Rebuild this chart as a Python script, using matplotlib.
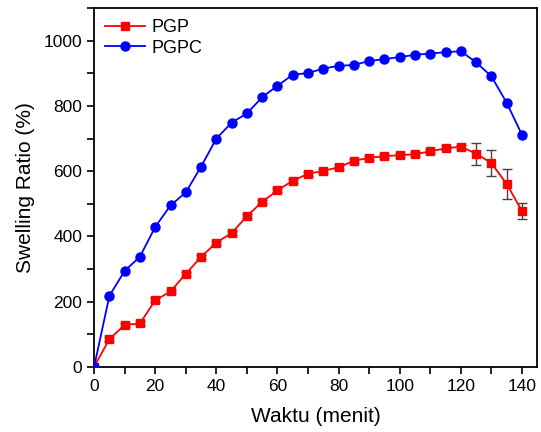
import matplotlib
matplotlib.use("Agg")
import matplotlib.pyplot as plt
from matplotlib.ticker import MultipleLocator

plt.rcParams['font.family'] = ['Liberation Sans', 'DejaVu Sans']

time = [0, 5, 10, 15, 20, 25, 30, 35, 40, 45, 50, 55, 60, 65, 70, 75, 80, 85,
        90, 95, 100, 105, 110, 115, 120, 125, 130, 135, 140]
pgp = [0, 85, 128, 133, 204, 231, 285, 337, 381, 410, 462, 506, 541, 571, 592,
       601, 612, 632, 641, 646, 649, 652, 661, 670, 675, 654, 625, 561, 478]
pgp_err = [0, 6, 6, 6, 6, 6, 6, 6, 6, 6, 6, 6, 6, 6, 6,
           6, 6, 6, 6, 6, 6, 6, 6, 6, 6, 34, 41, 47, 24]
pgpc = [0, 218, 294, 338, 429, 495, 535, 614, 700, 749, 777, 827, 862, 896, 901,
        915, 923, 926, 938, 944, 950, 957, 961, 965, 968, 934, 891, 810, 712]

fig = plt.figure(figsize=(5.41, 4.32), dpi=100)
ax = fig.add_axes([0.174, 0.151, 0.819, 0.83])

ax.errorbar(time, pgp, yerr=pgp_err, fmt='none', ecolor='#444444',
            elinewidth=1.0, capsize=3.5, zorder=2)
h1, = ax.plot(time, pgp, color='#ff0000', marker='s', markersize=5.5,
              linewidth=1.3, label='PGP', zorder=3)
h2, = ax.plot(time, pgpc, color='#0000ff', marker='o', markersize=6.5,
              linewidth=1.3, label='PGPC', zorder=3)

ax.set_xlim(0, 145)
ax.set_ylim(0, 1100)
ax.xaxis.set_major_locator(MultipleLocator(20))
ax.xaxis.set_minor_locator(MultipleLocator(10))
ax.yaxis.set_major_locator(MultipleLocator(200))
ax.yaxis.set_minor_locator(MultipleLocator(100))
ax.tick_params(which='both', direction='out', width=1.2, labelsize=12.5)
ax.tick_params(which='major', length=5)
ax.tick_params(which='minor', length=5)
for s in ax.spines.values():
    s.set_linewidth(1.3)

ax.set_xlabel('Waktu (menit)', fontsize=15, labelpad=10)
ax.set_ylabel('Swelling Ratio (%)', fontsize=15, labelpad=6)

ax.legend(handles=[h1, h2], loc='upper left', frameon=False, fontsize=13,
          handlelength=2.2, borderaxespad=0.2, labelspacing=0.2,
          handletextpad=0.4)

fig.savefig('out.png', dpi=100)
